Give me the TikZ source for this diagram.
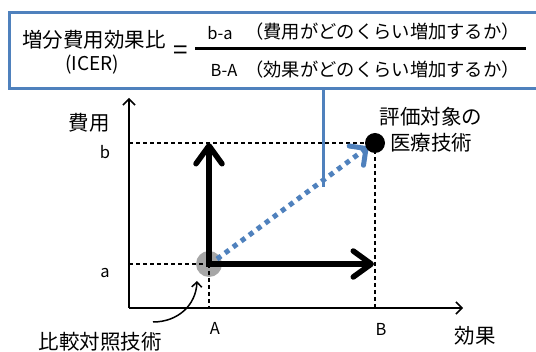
\documentclass[tikz,border=0pt]{standalone}
\usepackage{fontspec}
\setmainfont{Noto Sans CJK JP}
\usetikzlibrary{arrows.meta}
\definecolor{boxblue}{HTML}{4F81BD}
\definecolor{dotgray}{HTML}{A6A6A6}
\tikzset{
  jp/.style={font=\fontsize{20.5}{24}\selectfont, inner sep=0pt},
  jpsmall/.style={font=\fontsize{18.3}{21}\selectfont, inner sep=0pt},
  lat/.style={font=\fontsize{16.5}{19}\selectfont, inner sep=0pt},
  axis/.style={line width=1.5pt, -{Straight Barb[length=6pt,width=12pt]}},
  guide/.style={line width=1.2pt, dash pattern=on 4pt off 3pt},
  bigarrow/.style={line width=5.5pt, -{Straight Barb[length=18pt,width=26pt,round]}},
  bluearrow/.style={line width=5pt, boxblue, dash pattern=on 5pt off 5pt, -{Straight Barb[length=12pt,width=24pt,round]}},
}
\begin{document}
\begin{tikzpicture}[x=1pt,y=-1pt]
\useasboundingbox (0,0) rectangle (536,352);
% formula box
\draw[boxblue, line width=3pt] (9,13) rectangle (548,89);
\coordinate (boxlink) at (323,89);
\coordinate (linkend) at (323,187);
\draw[boxblue, line width=3pt] (boxlink) -- (linkend);
\node[jp] (icername) at (94,40) {増分費用効果比};
\node[font=\fontsize{19}{22}\selectfont, inner sep=0pt] (icer) at (92,65) {(ICER)};
\node[font=\fontsize{26}{28}\selectfont, inner sep=0pt] (eq) at (181,53) {=};
\coordinate (barL) at (195,49);
\coordinate (barR) at (526,49);
\draw[line width=3pt] (barL) -- (barR);
\node[lat] (num1) at (220,33) {b-a};
\node[jpsmall, anchor=east] (num2) at (520,32) {（費用がどのくらい増加するか）};
\node[lat] (den1) at (224,70) {B-A};
\node[jpsmall, anchor=east] (den2) at (520,70) {（効果がどのくらい増加するか）};
% points
\coordinate (O) at (129,308);
\coordinate (ytop) at (129,98);
\coordinate (xend) at (463,308);
\coordinate (Pa) at (209,264);
\coordinate (Pb) at (375,143);
\coordinate (yb) at (129,143);
\coordinate (ya) at (129,264);
\coordinate (xA) at (209,308);
\coordinate (xB) at (375,308);
\coordinate (Bb) at (374,264);
\coordinate (Ab) at (209,143);
\fill[dotgray] (Pa) circle (13);
\draw[guide] (yb) -- (Pb);
\draw[guide] (ya) -- (Pa);
\draw[guide] (Pa) -- (xA);
\draw[guide] (Pb) -- (xB);
\draw[axis] (O) -- (ytop);
\draw[axis] (O) -- (xend);
\draw[bigarrow] (Pa) -- (Ab);
\draw[bigarrow] ([xshift=-2.75pt]Pa) -- (Bb);
\coordinate (blueS) at (217,259);
\coordinate (blueE) at (368,147);
\draw[bluearrow] (blueS) -- (blueE);
\fill (Pb) circle (10);
% labels
\node[jp] (costlbl) at (89,123) {費用};
\node[lat] (blbl) at (105,152) {b};
\node[lat] (albl) at (105,273) {a};
\node[lat] (Albl) at (215,328) {A};
\node[lat] (Blbl) at (381,329) {B};
\node[jp] (efflbl) at (475,336) {効果};
\node[jp] (tgt1) at (431,117) {評価対象の};
\node[jp] (tgt2) at (431,143) {医療技術};
\node[jp] (cmp) at (100,342) {比較対照技術};
\coordinate (cmpS) at (153,322);
\coordinate (cmpE) at (197,281);
\draw[line width=1.5pt, -{Straight Barb[length=5pt,width=10pt]}] (cmpS) .. controls (178,322) and (196,305) .. (cmpE);
\end{tikzpicture}
\end{document}
